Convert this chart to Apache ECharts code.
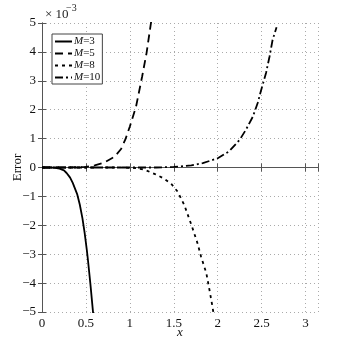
<!DOCTYPE html>
<html>
<head>
<meta charset="utf-8">
<script src="https://cdn.jsdelivr.net/npm/echarts@6/dist/echarts.min.js"></script>
<style>
  html, body { margin: 0; padding: 0; background: #fff; }
  #errChart { width: 343px; height: 343px; }
</style>
</head>
<body>
<div id="errChart"></div>
<script>
  // values in units of 1e-3
  var x3 = [0, 0.1, 0.15, 0.2, 0.25, 0.28, 0.32, 0.35, 0.4, 0.43, 0.46, 0.485, 0.51, 0.523, 0.55, 0.58, 0.59];
  var y3 = [0, 0, -0.01, -0.04, -0.1, -0.19, -0.35, -0.53, -0.92, -1.28, -1.75, -2.25, -2.85, -3.2, -4.0, -4.98, -5.3];

  var x5 = [0, 0.3, 0.5, 0.6, 0.7, 0.8, 0.85, 0.9, 0.95, 1.0, 1.07, 1.14, 1.19, 1.245];
  var y5 = [0, 0, 0.02, 0.07, 0.16, 0.33, 0.46, 0.64, 0.98, 1.42, 2.1, 3.15, 3.96, 5.1];

  var x8 = [0, 0.9, 1.07, 1.17, 1.28, 1.38, 1.47, 1.545, 1.62, 1.70, 1.77, 1.81, 1.87, 1.906, 1.94, 1.96];
  var y8 = [0, 0, -0.02, -0.08, -0.22, -0.37, -0.56, -0.84, -1.3, -1.98, -2.62, -3.08, -3.65, -4.23, -4.81, -5.2];

  var x10 = [0, 1.3, 1.5, 1.7, 1.83, 2.0, 2.13, 2.25, 2.32, 2.40, 2.455, 2.49, 2.55, 2.59, 2.625, 2.67];
  var y10 = [0, 0, 0.02, 0.07, 0.15, 0.32, 0.56, 0.96, 1.3, 1.76, 2.23, 2.63, 3.27, 3.84, 4.42, 4.85];

  var seriesNames = ['M=3', 'M=5', 'M=8', 'M=10'];
  var xTicks = [0, 0.5, 1, 1.5, 2, 2.5, 3];

  function pairs(xs, ys) {
    var out = [];
    for (var i = 0; i < xs.length; i++) out.push([xs[i], ys[i]]);
    return out;
  }
  function minus(v) {
    return String(v).replace('-', '\u2212');
  }

  var font = 'Liberation Serif';
  var axisColor = '#555';
  var gridLine = { show: true, lineStyle: { color: '#aaa', type: [1, 3], width: 1 } };

  var myChart = echarts.init(document.getElementById('errChart'));
  var option = {
    animation: false,
    textStyle: { fontFamily: font },
    grid: { left: 42, right: 25, top: 23, bottom: 31, outerBoundsMode: 'none', containLabel: false },
    graphic: [
      { type: 'text', left: 45, top: 8, style: { text: '\u00d7 10', fontFamily: font, fontSize: 13, fill: '#222' } },
      { type: 'text', left: 66, top: 3, style: { text: '\u22123', fontFamily: font, fontSize: 10, fill: '#222' } }
    ],
    legend: {
      orient: 'vertical',
      left: 52,
      top: 34,
      padding: [2, 2, 1, 2],
      itemGap: 1,
      itemWidth: 17,
      itemHeight: 9,
      borderColor: '#444',
      borderWidth: 1,
      backgroundColor: '#fff',
      itemStyle: { opacity: 0 },
      data: seriesNames,
      formatter: function (name) {
        return '{i|M}' + name.slice(1);
      },
      textStyle: {
        fontFamily: font, fontSize: 11, color: '#111', padding: [0, 0, 0, -3],
        rich: { i: { fontStyle: 'italic', fontFamily: font, fontSize: 11, color: '#111' } }
      }
    },
    xAxis: [
      {
        type: 'value', min: 0, max: Math.PI, interval: 0.5,
        name: 'x', nameLocation: 'middle', nameGap: 14, nameMoveOverlap: false,
        nameTextStyle: { fontFamily: font, fontStyle: 'italic', fontSize: 13, color: '#111' },
        axisLine: { lineStyle: { color: axisColor } },
        axisTick: { inside: true, length: 4, lineStyle: { color: axisColor } },
        axisLabel: {
          color: '#111', fontSize: 13, margin: 5, fontFamily: font,
          formatter: function (v) { return xTicks.indexOf(v) >= 0 ? String(v) : ''; }
        },
        splitLine: gridLine
      },
      {
        type: 'value', position: 'top', min: 0, max: Math.PI, interval: 0.5,
        axisLine: { show: true, lineStyle: { color: axisColor } },
        axisTick: { show: true, inside: true, length: 4, lineStyle: { color: axisColor } },
        axisLabel: { show: false },
        splitLine: { show: false }
      }
    ],
    yAxis: [
      {
        type: 'value', min: -5, max: 5, interval: 1,
        name: 'Error', nameLocation: 'middle', nameGap: 18, nameMoveOverlap: false,
        nameTextStyle: { fontFamily: font, fontSize: 13, color: '#111' },
        axisLine: { show: true, lineStyle: { color: axisColor } },
        axisTick: { show: true, inside: true, length: 4, lineStyle: { color: axisColor } },
        axisLabel: { color: '#111', fontSize: 13, margin: 6, fontFamily: font, formatter: minus },
        splitLine: gridLine
      },
      {
        type: 'value', position: 'right', min: -5, max: 5, interval: 1,
        axisLine: { show: true, lineStyle: { color: axisColor } },
        axisTick: { show: true, inside: true, length: 4, lineStyle: { color: axisColor } },
        axisLabel: { show: false },
        splitLine: { show: false }
      }
    ],
    series: [
      {
        name: 'M=3', type: 'line', symbol: 'none', color: '#000',
        lineStyle: { color: '#000', width: 1.8, type: 'solid' },
        data: pairs(x3, y3)
      },
      {
        name: 'M=5', type: 'line', symbol: 'none', color: '#000',
        lineStyle: { color: '#000', width: 1.8, type: [8, 5] },
        data: pairs(x5, y5)
      },
      {
        name: 'M=8', type: 'line', symbol: 'none', color: '#000',
        lineStyle: { color: '#000', width: 1.8, type: [3, 4] },
        data: pairs(x8, y8)
      },
      {
        name: 'M=10', type: 'line', symbol: 'none', color: '#000',
        lineStyle: { color: '#000', width: 1.8, type: [8, 3, 2, 3] },
        data: pairs(x10, y10)
      }
    ]
  };
  myChart.setOption(option);
</script>
</body>
</html>
